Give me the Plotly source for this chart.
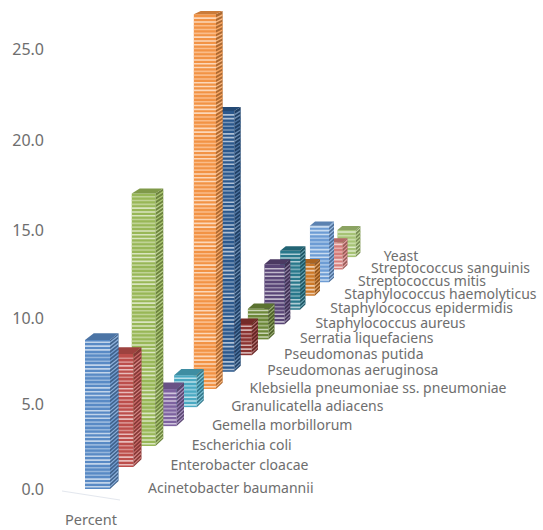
import plotly.graph_objects as go

categories = ["Acinetobacter baumannii", "Enterobacter cloacae", "Escherichia coli",
              "Gemella morbillorum", "Granulicatella adiacens",
              "Klebsiella pneumoniae ss. pneumoniae", "Pseudomonas aeruginosa",
              "Pseudomonas putida", "Serratia liquefaciens", "Staphylococcus aureus",
              "Staphylococcus epidermidis", "Staphylococcus haemolyticus",
              "Streptococcus mitis", "Streptococcus sanguinis", "Yeast"]
percent = [8.76, 6.85, 15.4, 2.38, 2.1, 24.1, 17.4, 2.2, 2.2, 4.4, 4.4, 2.45, 4.4, 2.15, 2.2]
colors = ["#5b8dc9", "#c0504d", "#9bbb59", "#8064a2", "#4bacc6", "#f79646", "#2c5a8f",
          "#8e3432", "#6f8b3a", "#5b4678", "#2a7a8e", "#d07a28", "#6f9fd8", "#d9807e", "#a9c777"]
tick_values = [0, 5, 10, 15, 20, 25]
tick_labels = ["0.0", "5.0", "10.0", "15.0", "20.0", "25.0"]
series_label = "Percent"

# oblique perspective used to project the 3-D columns on the flat axes
C, DX, DY, X0, W, DEPTH, A, B = 0.026, 921, 869, 110, 25, 0.36, 16.7, 0.00205
PERIOD, LIGHT_H, LABEL_GAP = 3.8, 1.6, 38
GREY = "#6e6e6e"
FONT = "Noto Sans"


def k(d):
    return 1 / (1 + C * d)


def height(v):
    return A * v / (1 - B * v)


def px(d, u=0.0):
    return X0 + DX * (1 - k(d)) + u * W * k(d)


def py(d, h=0.0):
    """h: screen height measured on the front plane at k=1"""
    return DY * (1 - k(d)) + k(d) * h


def rgb(c):
    return [int(c[i:i + 2], 16) for i in (1, 3, 5)]


def mix(c, other, t):
    a, b = rgb(c), rgb(other)
    return "#%02x%02x%02x" % tuple(round(a[i] + (b[i] - a[i]) * t) for i in range(3))


def poly(fig, xs, ys, color):
    fig.add_trace(go.Scatter(x=xs, y=ys, mode="lines", fill="toself", fillcolor=color,
                             line=dict(width=0), hoverinfo="skip", showlegend=False))


fig = go.Figure()
for i in reversed(range(len(categories))):
    v, col = percent[i], colors[i]
    kf = k(i)
    top = height(v)
    xl, xr, xb = px(i, -1), px(i), px(i + DEPTH)

    # solid faces
    poly(fig, [xl, xr, xr, xl, xl], [py(i), py(i), py(i, top), py(i, top), py(i)], mix(col, "#000000", 0.02))
    poly(fig, [xr, xb, xb, xr, xr], [py(i), py(i + DEPTH), py(i + DEPTH, top), py(i, top), py(i)],
         mix(col, "#000000", 0.30))
    poly(fig, [xl, xr, xb, px(i + DEPTH, -1), xl],
         [py(i, top), py(i, top), py(i + DEPTH, top), py(i + DEPTH, top), py(i, top)],
         mix(col, "#000000", 0.18))

    # horizontal stripes of the fill pattern, drifting in bands
    groups = {"bright": ([], [], [], []), "mid": ([], [], [], [])}
    j = 0
    s = 1.5
    while s + LIGHT_H < top * kf:
        name = "bright" if (j // 3) % 2 == 0 else "mid"
        fx, fy, sx, sy = groups[name]
        h0, h1 = s / kf, (s + LIGHT_H) / kf
        fx += [xl, xr, xr, xl, xl, None]
        fy += [py(i, h0), py(i, h0), py(i, h1), py(i, h1), py(i, h0), None]
        sx += [xr, xb, xb, xr, xr, None]
        sy += [py(i, h0), py(i + DEPTH, h0), py(i + DEPTH, h1), py(i, h1), py(i, h0), None]
        s += PERIOD
        j += 1
    poly(fig, groups["bright"][0], groups["bright"][1], mix(col, "#ffffff", 0.62))
    poly(fig, groups["mid"][0], groups["mid"][1], mix(col, "#ffffff", 0.36))
    poly(fig, groups["bright"][2], groups["bright"][3], mix(col, "#ffffff", 0.30))
    poly(fig, groups["mid"][2], groups["mid"][3], mix(col, "#ffffff", 0.15))

# faint floor line under the series label
fig.add_trace(go.Scatter(x=[62, 120], y=[-2, -11], mode="lines", hoverinfo="skip", showlegend=False,
                         line=dict(color="#e3e7ee", width=1)))

# category labels along the depth axis
fig.add_trace(go.Scatter(
    x=[px(i) + LABEL_GAP * k(i) for i in range(len(categories))],
    y=[py(i) for i in range(len(categories))],
    mode="text", text=categories, textposition="middle right",
    textfont=dict(family=FONT, size=14, color=GREY),
    hoverinfo="skip", showlegend=False, cliponaxis=False))

fig.update_layout(
    width=543, height=530, autosize=False,
    margin=dict(l=48, r=0, t=0, b=25),
    paper_bgcolor="white", plot_bgcolor="white", showlegend=False,
    font=dict(family=FONT, color=GREY),
    xaxis=dict(range=[48, 543], showgrid=False, zeroline=False, showline=False,
               tickmode="array", tickvals=[91], ticktext=[series_label], ticks="",
               ticklabelstandoff=4, tickfont=dict(size=14.5, color=GREY), fixedrange=True),
    yaxis=dict(range=[-16, 489], showgrid=False, zeroline=False, showline=False,
               tickmode="array", tickvals=[height(t) for t in tick_values], ticktext=tick_labels,
               ticks="", ticklabelstandoff=3, tickfont=dict(size=16, color=GREY), fixedrange=True),
)
fig.write_html("out.html", config={"displayModeBar": False},
               post_script="document.body.style.margin='0';document.body.style.overflow='hidden';")
